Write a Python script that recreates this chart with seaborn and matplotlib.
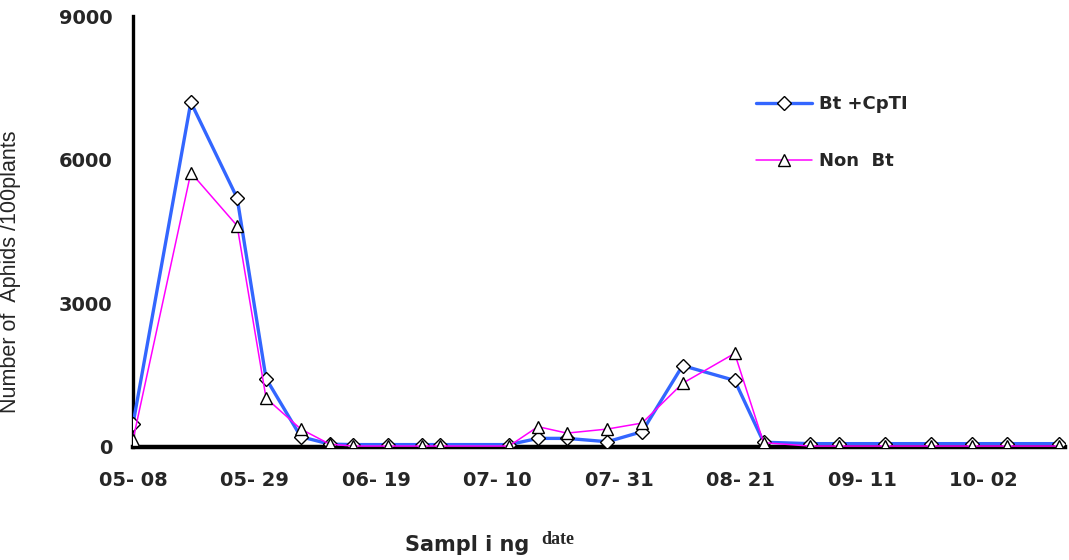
import pandas as pd
import numpy as np
import seaborn as sns
import matplotlib.pyplot as plt

# ---- data ----
sample_dates = ["05-08", "05-18", "05-26", "05-31", "06-06", "06-11", "06-15",
                "06-21", "06-27", "06-30", "07-12", "07-17", "07-22", "07-29",
                "08-04", "08-11", "08-20", "08-25", "09-02", "09-07", "09-15",
                "09-23", "09-30", "10-06", "10-15"]
bt_cpti = [480, 7200, 5200, 1430, 215, 60, 50, 50, 50, 50, 50, 180, 180, 110,
           320, 1700, 1390, 100, 70, 70, 70, 70, 70, 70, 70]
non_bt = [150, 5730, 4620, 1020, 375, 60, 20, 20, 20, 20, 20, 425, 290, 375,
          500, 1330, 1955, 90, 20, 20, 20, 20, 20, 20, 20]
tick_dates = ["05-08", "05-29", "06-19", "07-10", "07-31", "08-21", "09-11", "10-02"]
y_ticks = [0, 3000, 6000, 9000]
series_names = ["Bt +CpTI", "Non  Bt"]


def to_day(s):
    return (pd.Timestamp("2004-" + s) - pd.Timestamp("2004-05-08")).days


days = [to_day(d) for d in sample_dates]
tick_days = [to_day(d) for d in tick_dates]

df_bt = pd.DataFrame({"day": days, "count": bt_cpti})
df_non = pd.DataFrame({"day": days, "count": non_bt})

sns.set_style("white")
plt.rcParams["font.family"] = ["DejaVu Sans"]

W, H = 1069, 560
fig = plt.figure(figsize=(W / 100, H / 100), dpi=100)
ax_left, ax_right, ax_top, ax_bottom = 133, 1065, 16, 447
ax = fig.add_axes([ax_left / W, 1 - ax_bottom / H,
                   (ax_right - ax_left) / W, (ax_bottom - ax_top) / H])

blue = "#3366ff"
magenta = "#ff00ff"

sns.lineplot(data=df_bt, x="day", y="count", ax=ax, color=blue, linewidth=2.4,
             marker="D", markersize=7, markerfacecolor="white",
             markeredgecolor="black", markeredgewidth=1.0, zorder=4,
             label=series_names[0])
sns.lineplot(data=df_non, x="day", y="count", ax=ax, color=magenta, linewidth=1.1,
             marker="^", markersize=8.5, markerfacecolor="white",
             markeredgecolor="black", markeredgewidth=1.0, zorder=5,
             label=series_names[1])

ax.set_xlim(0, 161.1)
ax.set_ylim(0, 9000)

tick_font = {"family": "DejaVu Sans", "weight": "bold", "size": 14}
ax.set_xticks(tick_days)
ax.set_xticklabels([d.replace("-", "- ") for d in tick_dates], fontdict=tick_font)
ax.set_yticks(y_ticks)
ax.set_yticklabels([str(v) for v in y_ticks], fontdict=tick_font)
ax.tick_params(axis="x", direction="in", length=6, width=2, pad=17, color="black")
ax.tick_params(axis="y", direction="in", length=6, width=2, pad=15, color="black")

for s in ["top", "right"]:
    ax.spines[s].set_visible(False)
ax.spines["left"].set_linewidth(2.4)
ax.spines["bottom"].set_linewidth(3.2)
ax.spines["left"].set_color("black")
ax.spines["bottom"].set_color("black")
ax.spines["bottom"].set_zorder(3)

ax.set_xlabel("")
ax.set_ylabel("Number of  Aphids /100plants", fontsize=15.5,
              family="Liberation Sans")
ax.yaxis.set_label_coords((21 - ax_left) / (ax_right - ax_left),
                          (ax_bottom - 272) / (ax_bottom - ax_top))

fig.text(405 / W, 1 - 545 / H, "Sampl i ng", fontsize=15, fontweight="bold",
         ha="left", va="center")
fig.text(541 / W, 1 - 539 / H, "date", fontsize=13, fontweight="bold",
         family="Liberation Serif", ha="left", va="center")

leg = ax.legend(loc="upper left", bbox_to_anchor=(756 / W, 1 - 95 / H),
                bbox_transform=fig.transFigure, frameon=False,
                prop={"size": 13, "weight": "bold"}, handlelength=3.1,
                handletextpad=0.4, labelspacing=2.15, borderpad=0, borderaxespad=0)

fig.savefig("out.png", dpi=100)
